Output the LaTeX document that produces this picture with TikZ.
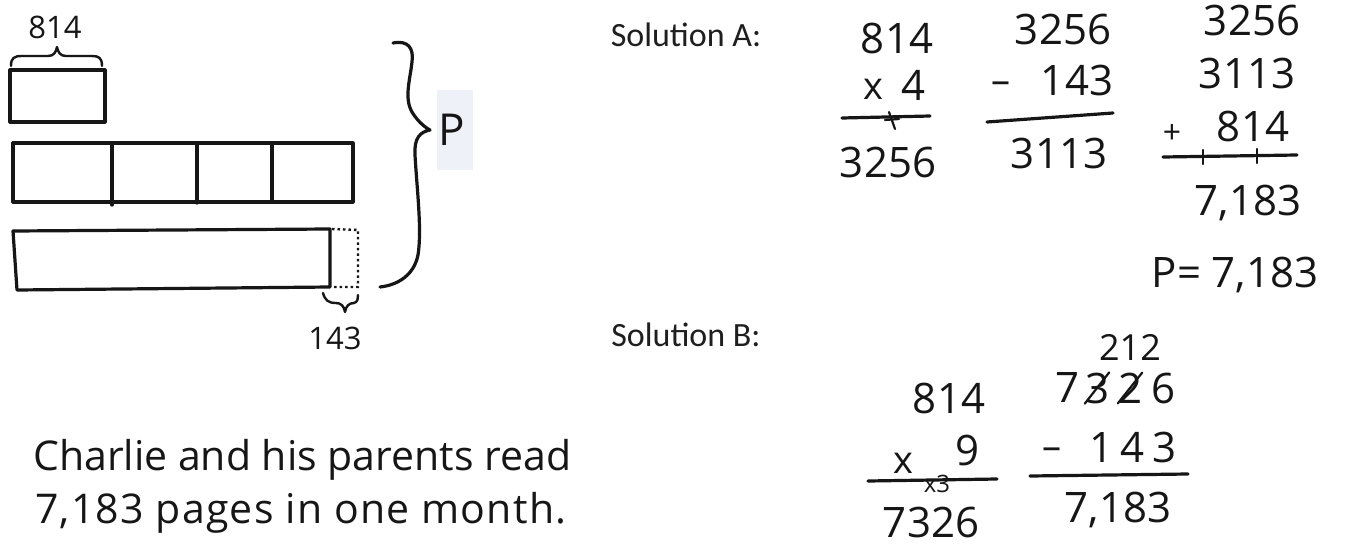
\documentclass[tikz,border=0pt]{standalone}
\usepackage{fontspec}
\setmainfont{Carlito}
\newfontfamily\hand{Open Sans}
\newfontfamily\handwide[LetterSpace=3]{Open Sans}
\definecolor{pbg}{RGB}{238,242,248}
\definecolor{inkc}{RGB}{22,22,22}
\begin{document}
\begin{tikzpicture}[x=1pt,y=-1pt,
  ink/.style={line width=3.2pt, line cap=round, line join=round, draw=inkc},
  thinink/.style={line width=2.2pt, line cap=round, draw=inkc},
  dotline/.style={line width=2.4pt, draw=inkc, dash pattern=on 2.5pt off 3pt},
  hw/.style={font=\hand\fontsize{42}{42}\selectfont, inner sep=0pt, text=inkc},
  hwm/.style={font=\hand\fontsize{36}{36}\selectfont, inner sep=0pt, text=inkc},
  hws/.style={font=\hand\fontsize{31}{31}\selectfont, inner sep=0pt, text=inkc},
  op/.style={font=\hand\fontsize{38}{38}\selectfont, inner sep=0pt, text=inkc},
  tiny/.style={font=\hand\fontsize{24}{24}\selectfont, inner sep=0pt, text=inkc},
  lbl/.style={font=\fontsize{34}{34}\selectfont, inner sep=0pt, text=black!88},
  sent/.style={font=\hand\fontsize{41}{41}\selectfont, inner sep=0pt, anchor=base west, text=inkc}]
\useasboundingbox (0,0) rectangle (1370,546);
\fill[white] (0,0) rectangle (1370,546);

% ---------- tape diagram ----------
\node[hws] (t814) at (55,27) {814};
\draw[ink, line width=2.4pt] (11,66) .. controls (11,58) and (14,56) .. (22,56) -- (48,56)
  .. controls (54,56) and (56,52) .. (57,47) .. controls (58,52) and (60,56) .. (66,56)
  -- (92,56) .. controls (99,56) and (102,58) .. (102,66);
\draw[ink] (10,70) rectangle (105,122);
\draw[ink] (13,143) rectangle (353,202);
\draw[ink] (112,143) -- (112,205);
\draw[ink] (197,143) -- (197,203);
\draw[ink] (272,143) -- (272,202);
\draw[ink] (13,231) -- (330,229) -- (330,287) -- (17,290) -- cycle;
\draw[dotline] (332,229) -- (358,230) -- (358,287) -- (332,287);
\draw[ink, line width=2.4pt] (323,293) .. controls (325,300) and (328,303) .. (336,303)
  .. controls (341,303) and (344,306) .. (345,312) .. controls (346,306) and (349,303) .. (354,303)
  .. controls (358,302) and (358,298) .. (358,295);
\node[hws] (t143) at (335,338) {143};
\draw[ink] (393,43) .. controls (408,40) and (414,48) .. (412,62)
  .. controls (410,80) and (404,98) .. (412,112)
  .. controls (418,122) and (426,128) .. (430,130)
  .. controls (420,132) and (414,138) .. (415,155)
  .. controls (417,190) and (422,230) .. (418,255)
  .. controls (414,275) and (398,285) .. (380,287);
\fill[pbg] (437,90) rectangle (473,170);
\node[font=\hand\fontsize{44}{44}\selectfont, inner sep=0pt, text=inkc] (P) at (452,130) {P};

% ---------- labels ----------
\node[lbl] (solA) at (686,35) {Solution A:};
\node[lbl] (solB) at (686,335) {Solution B:};

% ---------- solution A ----------
\node[hw] (a1) at (897,38) {814};
\node[op] (ax) at (873,89) {x};
\node[hw] (a4) at (913,85) {4};
\draw[ink] (842,118) -- (930,116);
\draw[thinink] (889,112) -- (895,129);
\draw[thinink] (885,120) -- (899,119);
\node[hw] (a2) at (888,162) {3256};

\node[hw] (b1) at (1063,29) {3256};
\node[op] (bm) at (1001,88) {–};
\node[hw] (b2) at (1077,80) {143};
\draw[ink] (987,122) -- (1113,113);
\node[hw] (b3) at (1059,153) {3113};

\node[hw] (c1) at (1252,20) {3256};
\node[hw] (c2) at (1247,73) {3113};
\node[op, font=\hand\fontsize{32}{32}\selectfont] (cp) at (1172,134) {+};
\node[hw] (c3) at (1253,126) {814};
\draw[ink] (1163,157) -- (1297,155);
\draw[thinink] (1203,150) -- (1203,164);
\draw[thinink] (1257,149) -- (1257,163);
\node[hw] (c4) at (1248,203) {7,183};
\node[hw] (c5) at (1235,275) {P= 7,183};

% ---------- solution B ----------
\node[hwm] (d0) at (1130,347) {212};
\node[hw] (d7) at (1067,388) {7};
\node[hw] (d3) at (1097,388) {3};
\node[hw] (d2) at (1130,388) {2};
\node[hw] (d6) at (1163,388) {6};
\draw[thinink] (d3.south west) -- (d3.north east);
\draw[thinink] (d2.south west) -- (d2.north east);
\node[hw] (e1) at (949,398) {814};
\node[op] (ex) at (903,463) {x};
\node[hw] (e9) at (967,450) {9};
\node[tiny] (ec) at (937,484) {x3};
\draw[ink] (868,481) -- (997,479);
\node[hw] (e2) at (931,522) {7326};
\node[op] (fm) at (1052,454) {–};
\node[hw] (f1) at (1133,447) {1\,4\,3};
\draw[ink] (1030,476) -- (1188,474);
\node[hw] (f2) at (1118,510) {7,183};

% ---------- sentence ----------
\node[sent] (s1) at (33,470) {Charlie and his parents read};
\node[sent, font=\handwide\fontsize{41}{41}\selectfont] (s2) at (35,523) {7,183 pages in one month.};
\end{tikzpicture}
\end{document}
